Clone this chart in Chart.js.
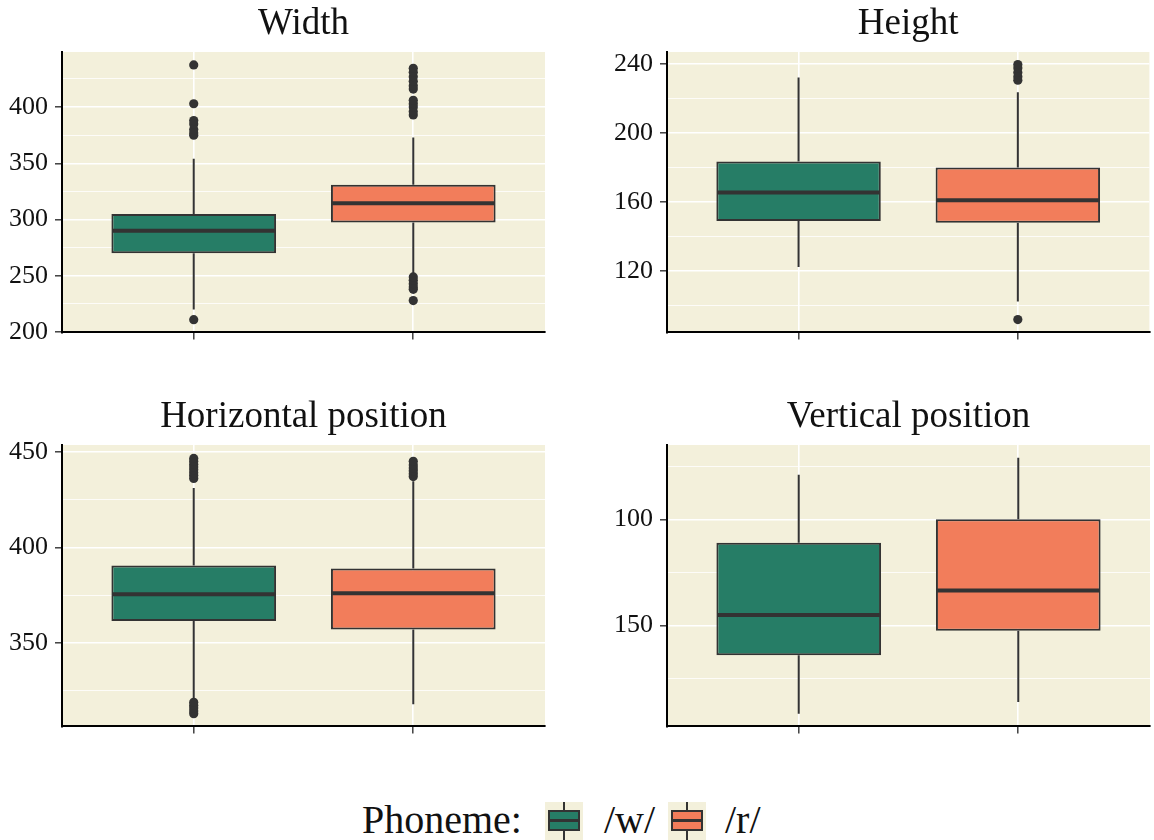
<!DOCTYPE html>
<html>
<head>
<meta charset="utf-8">
<script src="https://cdn.jsdelivr.net/npm/chart.js@4.4.1/dist/chart.umd.min.js"></script>
<style>
  body { margin: 0; background: #fff; width: 1154px; height: 840px; overflow: hidden; position: relative; font-family: 'Liberation Serif', serif; }
  canvas { position: absolute; }
  .lab { position: absolute; top: 800px; font-size: 40px; line-height: 40px; color: #111; white-space: nowrap; }
  .key { position: absolute; top: 802px; width: 38px; height: 38px; background: #f3f0db; }
  .key .wh { position: absolute; left: 18px; top: 0; width: 2px; height: 38px; background: #333; }
  .key .bx { position: absolute; left: 3px; top: 8px; width: 32px; height: 21px; box-sizing: border-box; border: 2px solid #333; }
  .key .md { position: absolute; left: 3px; top: 17px; width: 32px; height: 3px; background: #333; }
</style>
</head>
<body>
<canvas id="c1" width="577" height="355" style="left:0;top:0"></canvas>
<canvas id="c2" width="554" height="355" style="left:600px;top:0"></canvas>
<canvas id="c3" width="577" height="356" style="left:0;top:393px"></canvas>
<canvas id="c4" width="554" height="356" style="left:600px;top:393px"></canvas>
<div id="legend"></div>
<script>
var phonemes = ['/w/', '/r/'];
var boxColors = ['#267d66', '#f27d5b'];

// per phoneme: lower whisker, q1, median, q3, upper whisker
var widthStats = [[220, 270, 290, 305, 354], [251, 297.5, 314.5, 331, 373]];
var widthOutliersW = [211, 375, 377, 380, 385, 388, 403, 437.5];
var widthOutliersR = [228, 238, 240, 243, 246, 249, 393, 396, 400, 403, 406, 416, 419, 423, 427, 431, 434.5];
var widthTicks = [200, 250, 300, 350, 400];
var widthMinor = [225, 275, 325, 375, 425];

var heightStats = [[122.5, 149, 165.5, 183.5, 232], [102.5, 148, 161, 180, 223.5]];
var heightOutliersW = [];
var heightOutliersR = [92, 230.5, 232.5, 235, 237.5, 239.5];
var heightTicks = [120, 160, 200, 240];
var heightMinor = [100, 140, 180, 220];

var hposStats = [[321, 361.5, 375.5, 390.5, 431], [318, 357, 376, 389, 434.5]];
var hposOutliersW = [313, 314.5, 316, 317.5, 319, 436, 437.5, 439, 440.5, 442, 443.5, 445, 446.5];
var hposOutliersR = [437, 438.5, 440, 441.5, 443, 445];
var hposTicks = [350, 400, 450];
var hposMinor = [325, 375, 425];

var vposStats = [[79, 111, 145, 164, 191.5], [71, 100, 133.5, 152.5, 186]];
var vposOutliersW = [];
var vposOutliersR = [];
var vposTicks = [100, 150];
var vposMinor = [75, 125, 175];

var serif = "'Liberation Serif', serif";
var panelBg = '#f3f0db';
var ink = '#333333';

function makePanel(id, title, stats, outW, outR, ticks, minor, yMin, yMax, reverse, axisWidth, padRight) {
  var outliers = [];
  outW.forEach(function (v) { outliers.push({ x: 1, y: v }); });
  outR.forEach(function (v) { outliers.push({ x: 2, y: v }); });

  var boxPlugin = {
    id: 'boxes',
    beforeDraw: function (chart) {
      var a = chart.chartArea, c = chart.ctx;
      c.save();
      c.fillStyle = panelBg;
      c.fillRect(a.left, a.top, a.right - a.left, a.bottom - a.top);
      c.restore();
    },
    beforeDatasetsDraw: function (chart) {
      var c = chart.ctx, xs = chart.scales.x, ys = chart.scales.y;
      c.save();
      c.strokeStyle = ink;
      c.lineWidth = 2;
      stats.forEach(function (s, i) {
        var x = xs.getPixelForValue(i + 1);
        c.beginPath();
        c.moveTo(x, ys.getPixelForValue(s[0]));
        c.lineTo(x, ys.getPixelForValue(s[1]));
        c.moveTo(x, ys.getPixelForValue(s[3]));
        c.lineTo(x, ys.getPixelForValue(s[4]));
        c.stroke();
      });
      c.restore();
    },
    afterDatasetsDraw: function (chart) {
      var c = chart.ctx, ys = chart.scales.y;
      var bars = chart.getDatasetMeta(0).data;
      c.save();
      c.strokeStyle = ink;
      c.lineWidth = 4;
      stats.forEach(function (s, i) {
        var b = bars[i], y = ys.getPixelForValue(s[2]);
        c.beginPath();
        c.moveTo(b.x - b.width / 2 + 1, y);
        c.lineTo(b.x + b.width / 2 - 1, y);
        c.stroke();
      });
      c.restore();
    }
  };

  return new Chart(document.getElementById(id), {
    type: 'bar',
    data: {
      datasets: [{
        label: 'box',
        data: stats.map(function (s, i) { return { x: i + 1, y: [s[1], s[3]] }; }),
        backgroundColor: boxColors,
        borderColor: ink,
        borderWidth: 2,
        borderSkipped: false,
        barPercentage: 0.75,
        categoryPercentage: 1
      }, {
        type: 'scatter',
        label: 'outliers',
        data: outliers,
        pointRadius: 4.6,
        pointBackgroundColor: ink,
        pointBorderWidth: 0,
        order: -1
      }]
    },
    options: {
      responsive: false,
      animation: false,
      devicePixelRatio: 1,
      layout: { padding: { left: 0, right: padRight, top: 0, bottom: 0 } },
      plugins: {
        legend: { display: false },
        tooltip: { enabled: false },
        title: {
          display: true, text: title, fullSize: false, color: '#111',
          font: { family: serif, size: 37, weight: 'normal', lineHeight: 1 },
          padding: { top: 6, bottom: 9 }
        }
      },
      scales: {
        x: {
          type: 'linear', min: 0.4, max: 2.6, offset: false, bounds: 'data',
          afterBuildTicks: function (s) { s.ticks = [{ value: 1 }, { value: 2 }]; },
          afterFit: function (s) { s.height = 10; },
          grid: { offset: false, color: '#ffffff', lineWidth: 1.6, drawTicks: true, tickLength: 7, tickColor: ink, tickWidth: 1.4 },
          border: { display: true, color: '#000', width: 2 },
          ticks: { autoSkip: false, padding: 0, callback: function () { return ''; } }
        },
        y: {
          type: 'linear', min: yMin, max: yMax, reverse: reverse, bounds: 'data',
          afterBuildTicks: function (s) {
            s.ticks = ticks.concat(minor).map(function (v) { return { value: v }; });
          },
          afterFit: function (s) { s.width = axisWidth; },
          grid: {
            color: '#ffffff',
            lineWidth: function (ctx) { return ctx.tick && ticks.indexOf(ctx.tick.value) >= 0 ? 1.6 : 0.8; },
            drawTicks: true, tickLength: 7, tickWidth: 1.4,
            tickColor: function (ctx) { return ctx.tick && ticks.indexOf(ctx.tick.value) >= 0 ? ink : 'rgba(0,0,0,0)'; }
          },
          border: { display: true, color: '#000', width: 2 },
          ticks: {
            autoSkip: false, padding: 7, color: '#111',
            font: { family: serif, size: 26 },
            callback: function (v) { return ticks.indexOf(v) >= 0 ? String(v) : ''; }
          }
        }
      }
    },
    plugins: [boxPlugin]
  });
}

makePanel('c1', 'Width', widthStats, widthOutliersW, widthOutliersR, widthTicks, widthMinor, 199.7, 449, false, 62, 32);
makePanel('c2', 'Height', heightStats, heightOutliersW, heightOutliersR, heightTicks, heightMinor, 84.6, 246.8, false, 67, 4);
makePanel('c3', 'Horizontal position', hposStats, hposOutliersW, hposOutliersR, hposTicks, hposMinor, 306.4, 453.5, false, 62, 32);
makePanel('c4', 'Vertical position', vposStats, vposOutliersW, vposOutliersR, vposTicks, vposMinor, 65, 197.5, true, 67, 4);

// legend
var legend = document.getElementById('legend');
var html = '<span class="lab" style="left:362px">Phoneme:</span>';
var keyLeft = [545, 668];
var labLeft = [604, 725];
phonemes.forEach(function (p, i) {
  html += '<div class="key" style="left:' + keyLeft[i] + 'px"><div class="wh"></div>' +
    '<div class="bx" style="background:' + boxColors[i] + '"></div><div class="md"></div></div>' +
    '<span class="lab" style="left:' + labLeft[i] + 'px">' + p + '</span>';
});
legend.innerHTML = html;
</script>
</body>
</html>
